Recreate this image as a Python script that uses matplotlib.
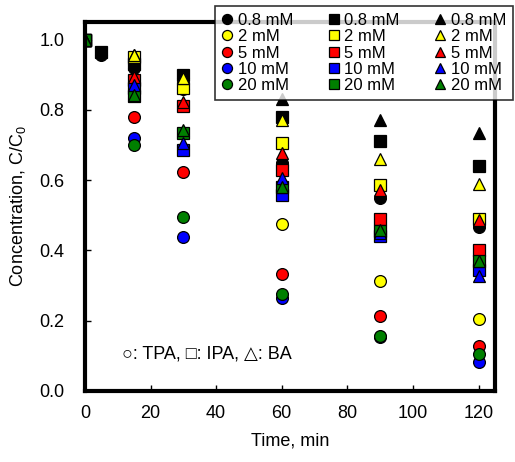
import matplotlib
matplotlib.use("Agg")
import matplotlib.pyplot as plt

plt.rcParams['font.family'] = ['Liberation Sans', 'DejaVu Sans']
plt.rcParams['mathtext.default'] = 'regular'

# sampling times (min)
t_long = [0, 5, 15, 30, 60, 90, 120]
t_std = [0, 15, 30, 60, 90, 120]

conc_labels = ["0.8 mM", "2 mM", "5 mM", "10 mM", "20 mM"]
colors = ["black", "#ffff00", "#ff0000", "#0000ff", "#008000"]

# TPA (circles)
tpa_08 = [1.0, 0.955, 0.92, 0.89, 0.65, 0.548, 0.466]
tpa_2 = [1.0, 0.93, 0.86, 0.474, 0.314, 0.206]
tpa_5 = [1.0, 0.78, 0.623, 0.334, 0.214, 0.129]
tpa_10 = [1.0, 0.72, 0.437, 0.266, 0.155, 0.083]
tpa_20 = [1.0, 0.70, 0.495, 0.277, 0.157, 0.105]

# IPA (squares)
ipa_08 = [1.0, 0.965, 0.93, 0.90, 0.78, 0.711, 0.64]
ipa_2 = [1.0, 0.95, 0.863, 0.706, 0.586, 0.49]
ipa_5 = [1.0, 0.885, 0.81, 0.63, 0.49, 0.40]
ipa_10 = [1.0, 0.862, 0.686, 0.557, 0.44, 0.345]
ipa_20 = [1.0, 0.84, 0.734, 0.58, 0.455, 0.371]

# BA (triangles)
ba_08 = [1.0, 0.955, 0.89, 0.83, 0.771, 0.734]
ba_2 = [1.0, 0.957, 0.89, 0.77, 0.66, 0.589]
ba_5 = [1.0, 0.894, 0.823, 0.677, 0.571, 0.486]
ba_10 = [1.0, 0.87, 0.705, 0.605, 0.45, 0.328]
ba_20 = [1.0, 0.843, 0.743, 0.58, 0.457, 0.371]

tpa = [(t_long, tpa_08), (t_std, tpa_2), (t_std, tpa_5), (t_std, tpa_10), (t_std, tpa_20)]
ipa = [(t_long, ipa_08), (t_std, ipa_2), (t_std, ipa_5), (t_std, ipa_10), (t_std, ipa_20)]
ba = [(t_std, ba_08), (t_std, ba_2), (t_std, ba_5), (t_std, ba_10), (t_std, ba_20)]

fs = 13
fig = plt.figure(figsize=(5.15, 4.62), dpi=100)
ax = fig.add_axes([0.165, 0.1537, 0.796, 0.7987])

handles = []
for group, mk, ms in ((tpa, 'o', 8.5), (ipa, 's', 8), (ba, '^', 8.5)):
    for (t, c), col, lab in zip(group, colors, conc_labels):
        h, = ax.plot(t, c, linestyle='none', marker=mk, ms=ms, mfc=col,
                     mec='black', mew=0.9, label=lab)
        handles.append(h)

ax.set_xlim(0, 125)
ax.set_ylim(0, 1.05)
ax.set_xticks(range(0, 121, 20))
ax.set_yticks([0, 0.2, 0.4, 0.6, 0.8, 1.0])
ax.set_yticklabels(["0.0", "0.2", "0.4", "0.6", "0.8", "1.0"])
ax.tick_params(direction='in', length=4, width=1, labelsize=fs)
ax.tick_params(axis='x', pad=10)
ax.tick_params(axis='y', pad=15)
for sp in ax.spines.values():
    sp.set_linewidth(3)

ax.set_xlabel("Time, min", fontsize=fs, labelpad=8)
ax.set_ylabel("Concentration, C/C$_0$", fontsize=fs, labelpad=8)

ax.text(0.09, 0.1, "\u25cb: TPA, \u25a1: IPA, \u25b3: BA", transform=ax.transAxes,
        fontsize=fs, va='center', ha='left')

# legend: columns = TPA circles, IPA squares, BA triangles
leg = fig.legend(handles=handles, ncol=3, loc='upper right',
                 bbox_to_anchor=(513 / 515, 1 - 6 / 462), bbox_transform=fig.transFigure,
                 fontsize=12, frameon=True, fancybox=False, borderaxespad=0,
                 labelspacing=0.08, handlelength=0.7, handletextpad=0.3,
                 columnspacing=2.05, borderpad=0.42, markerscale=0.85)
leg.get_frame().set_edgecolor('black')
leg.get_frame().set_linewidth(1.2)
leg.set_zorder(10)

fig.savefig("out.png", dpi=100)
